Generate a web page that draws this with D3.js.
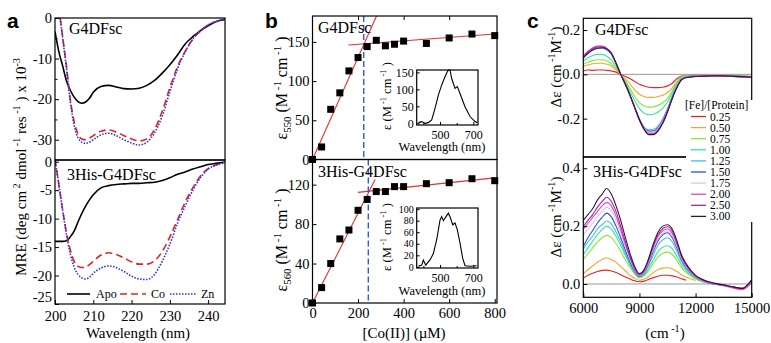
<!DOCTYPE html>
<html>
<head>
<meta charset="utf-8">
<script src="https://cdn.jsdelivr.net/npm/d3@7"></script>
<style>
  body { margin: 0; background: #fff; }
  svg { display: block; }
  text { font-family: "Liberation Serif", "Times New Roman", serif; fill: #000; }
</style>
</head>
<body>
<svg id="chart" width="771" height="343"></svg>
<script>
// ---------- panel a: CD spectra (MRE x 10^-3) ----------
const wlA = [200, 201, 202, 203, 204, 205, 206, 207, 208, 209, 210, 212, 214, 216, 218, 220,
             222, 224, 226, 228, 230, 232, 234, 236, 238, 240, 242, 244, 245];
const apoG4 = [-3.3, -8.3, -11.8, -15.5, -17.8, -19.5, -20.6, -21.0, -20.7, -19.8, -18.3, -16.9, -16.6, -17.0, -17.4,
               -17.5, -17.3, -16.6, -15.4, -13.6, -11.5, -9.1, -6.4, -4.6, -3.1, -1.9, -0.9, -0.4, -0.2];
const coG4 = [8, 2.5, -4.6, -11.9, -20.1, -25.5, -28.6, -29.8, -30.0, -29.6, -29.0, -27.9, -27.6, -28.1, -29.0,
              -29.8, -30.3, -29.8, -27.5, -23.0, -17.2, -12.0, -8.2, -5.2, -3.2, -1.7, -0.9, -0.4, -0.2];
const znG4 = [8, 2.3, -5.0, -12.5, -20.6, -26.5, -29.5, -30.6, -30.9, -30.6, -30.0, -28.8, -28.4, -29.0, -30.0,
              -30.8, -31.3, -30.6, -28.3, -24.2, -18.2, -12.5, -8.4, -5.2, -3.2, -1.7, -0.9, -0.4, -0.2];
const apo3H = [-14.0, -14.0, -14.0, -13.9, -13.2, -12.2, -10.6, -9.1, -7.8, -6.7, -5.8, -4.6, -4.2, -4.0, -3.9,
               -3.8, -3.8, -3.7, -3.6, -3.3, -2.8, -2.2, -1.8, -1.3, -0.9, -0.5, -0.3, -0.1, 0];
const co3H = [0.5, -4, -8.5, -12.5, -15.5, -17.5, -18.4, -18.6, -18.5, -18.1, -17.5, -16.4, -16.0, -16.3, -16.9,
              -17.6, -18.0, -18.0, -17.4, -15.8, -13.2, -10.2, -7.1, -4.6, -2.5, -1.2, -0.6, -0.2, 0];
const zn3H = [0.5, -4, -8.5, -12.8, -16.2, -18.5, -19.8, -20.4, -20.6, -20.3, -19.6, -18.7, -18.3, -18.6, -19.3,
              -20.1, -20.6, -20.7, -19.8, -17.5, -14.5, -10.8, -7.8, -5.0, -2.8, -1.3, -0.6, -0.2, 0];
const legendA = ["Apo", "Co", "Zn"];

// ---------- panel b: Co(II) titrations ----------
const conc = [0, 40, 80, 120, 160, 200, 240, 280, 320, 360, 400, 500, 600, 700, 800];
const eps550 = [0, 16, 64, 85, 113, 130, 144, 152, 145, 147, 151, 148, 155, 160, 158];
const eps560 = [0, 15.6, 40, 65, 74, 94, 105, 113, 113, 118, 118, 121, 122, 126, 124];
// linear fits: [slope, intercept, xStart, xEnd]
const fitSteep550 = [0.651, 0, 0, 290];
const fitFlat550 = [0.0218, 142.6, 158, 800];
const fitSteep560 = [0.455, 0, 0, 275];
const fitFlat560 = [0.0245, 107.3, 199, 800];
const breakPoints = [225, 245];
// inset absorption spectra
const insetWl1 = [370, 390, 410, 430, 450, 470, 490, 510, 530, 540, 550, 560, 570, 590, 604, 620, 650, 680, 710, 724];
const insetEps1 = [2, 5, 0, 2, 10, 44, 83, 113, 137, 148, 157, 157, 132, 103, 108, 88, 49, 20, 5, 2];
const insetWl2 = [370, 390, 400, 414, 440, 460, 480, 500, 510, 520, 536, 550, 560, 576, 590, 604, 620, 636, 650, 680, 720];
const insetEps2 = [1, 3, 12, 3, 12, 23, 47, 81, 87, 80, 87, 93, 87, 73, 76, 64, 41, 15, 2, 1, 2];

// ---------- panel c: Fe(II) titration difference spectra ----------
const wnC = [6000, 6250, 6500, 6750, 7000, 7250, 7500, 7750, 8000, 8250, 8500, 8750, 9000, 9250, 9500,
             9750, 10000, 10250, 10500, 10750, 11000, 11250, 11500, 12000, 12500, 13000, 13500, 14000, 14500, 15000];
const ratios = ["0.25", "0.50", "0.75", "1.00", "1.25", "1.50", "1.75", "2.00", "2.50", "3.00"];
const ratioColors = ["#e8222a", "#f5a62a", "#8ee43a", "#30e89a", "#4cb8ee", "#2a4fd6", "#d8c8ee", "#e044d0", "#a22a9e", "#3a1632"];

const topR025 = [0.015, 0.02, 0.018, 0.02, 0.02, 0.018, 0.015, 0.01, 0.0, -0.01, -0.02, -0.032, -0.045, -0.053, -0.058, -0.06, -0.06, -0.058, -0.052, -0.04, -0.02, -0.008, -0.005, -0.004, -0.005, -0.006, -0.005, -0.006, -0.008, -0.01];
const topR050 = [0.035, 0.042, 0.048, 0.05, 0.05, 0.046, 0.038, 0.02, 0.0, -0.02, -0.045, -0.07, -0.09, -0.1, -0.104, -0.104, -0.1, -0.094, -0.082, -0.062, -0.03, -0.01, -0.005, -0.004, -0.005, -0.005, -0.006, -0.006, -0.008, -0.01];
const topR075 = [0.045, 0.055, 0.062, 0.066, 0.066, 0.06, 0.048, 0.026, 0.0, -0.03, -0.065, -0.1, -0.128, -0.143, -0.148, -0.147, -0.14, -0.128, -0.108, -0.075, -0.035, -0.012, -0.006, -0.005, -0.005, -0.006, -0.006, -0.007, -0.008, -0.01];
const topR100 = [0.06, 0.075, 0.085, 0.09, 0.09, 0.082, 0.065, 0.035, 0.0, -0.035, -0.078, -0.12, -0.155, -0.175, -0.182, -0.18, -0.17, -0.152, -0.125, -0.085, -0.04, -0.015, -0.008, -0.006, -0.005, -0.006, -0.007, -0.007, -0.008, -0.01];
const topR125 = [0.075, 0.095, 0.11, 0.118, 0.118, 0.11, 0.09, 0.048, 0.0, -0.045, -0.095, -0.148, -0.2, -0.238, -0.25, -0.248, -0.232, -0.2, -0.155, -0.1, -0.052, -0.02, -0.01, -0.008, -0.006, -0.006, -0.007, -0.01, -0.012, -0.012];
const topR150 = [0.078, 0.098, 0.113, 0.12, 0.12, 0.112, 0.092, 0.049, 0.0, -0.046, -0.096, -0.15, -0.203, -0.242, -0.256, -0.255, -0.24, -0.208, -0.16, -0.103, -0.055, -0.022, -0.012, -0.008, -0.007, -0.006, -0.007, -0.009, -0.01, -0.012];
const topR175 = [0.08, 0.1, 0.115, 0.122, 0.122, 0.114, 0.094, 0.05, 0.0, -0.046, -0.097, -0.151, -0.205, -0.245, -0.262, -0.262, -0.246, -0.212, -0.164, -0.106, -0.056, -0.023, -0.012, -0.009, -0.007, -0.007, -0.007, -0.009, -0.01, -0.012];
const topR200 = [0.085, 0.105, 0.12, 0.128, 0.128, 0.118, 0.096, 0.051, 0.0, -0.046, -0.097, -0.152, -0.206, -0.247, -0.266, -0.267, -0.25, -0.216, -0.166, -0.108, -0.058, -0.024, -0.013, -0.009, -0.007, -0.007, -0.008, -0.01, -0.012, -0.014];
const topR250 = [0.08, 0.1, 0.116, 0.124, 0.124, 0.116, 0.095, 0.05, 0.0, -0.046, -0.096, -0.151, -0.206, -0.248, -0.27, -0.27, -0.253, -0.219, -0.168, -0.109, -0.059, -0.025, -0.014, -0.01, -0.008, -0.007, -0.008, -0.01, -0.012, -0.013];
const topR300 = [0.075, 0.095, 0.11, 0.118, 0.12, 0.115, 0.095, 0.05, 0.0, -0.045, -0.095, -0.15, -0.205, -0.248, -0.272, -0.272, -0.255, -0.22, -0.17, -0.11, -0.06, -0.025, -0.015, -0.01, -0.008, -0.006, -0.006, -0.008, -0.01, -0.012];

const botR025 = [0.02, 0.03, 0.037, 0.043, 0.047, 0.048, 0.045, 0.04, 0.032, 0.024, 0.017, 0.011, 0.008, 0.01, 0.016, 0.022, 0.027, 0.03, 0.03, 0.028, 0.024, 0.018, 0.013, null, null, null, null, null, null, null];
const botR050 = [0.035, 0.05, 0.062, 0.075, 0.085, 0.09, 0.085, 0.075, 0.06, 0.045, 0.03, 0.02, 0.013, 0.017, 0.027, 0.04, 0.05, 0.055, 0.056, 0.052, 0.043, 0.032, 0.024, 0.012, null, null, null, null, null, null];
const botR075 = [0.085, 0.105, 0.125, 0.145, 0.16, 0.168, 0.16, 0.14, 0.113, 0.083, 0.056, 0.034, 0.021, 0.028, 0.047, 0.072, 0.094, 0.106, 0.11, 0.102, 0.081, 0.056, 0.039, 0.017, 0.005, 0.0, -0.005, -0.01, -0.014, 0.008];
const botR100 = [0.1, 0.125, 0.148, 0.17, 0.188, 0.2, 0.19, 0.165, 0.133, 0.098, 0.065, 0.038, 0.023, 0.031, 0.055, 0.085, 0.112, 0.127, 0.132, 0.122, 0.096, 0.066, 0.045, 0.02, 0.006, 0.0, -0.005, -0.01, -0.015, 0.01];
const botR125 = [0.12, 0.145, 0.165, 0.19, 0.205, 0.218, 0.207, 0.18, 0.145, 0.106, 0.07, 0.041, 0.025, 0.036, 0.065, 0.102, 0.135, 0.153, 0.16, 0.146, 0.114, 0.077, 0.052, 0.022, 0.007, 0.0, -0.005, -0.011, -0.016, 0.012];
const botR150 = [0.13, 0.16, 0.185, 0.21, 0.23, 0.245, 0.232, 0.2, 0.16, 0.117, 0.077, 0.045, 0.027, 0.04, 0.073, 0.115, 0.15, 0.17, 0.177, 0.16, 0.125, 0.084, 0.057, 0.024, 0.008, 0.0, -0.005, -0.011, -0.016, 0.01];
const botR175 = [0.17, 0.19, 0.21, 0.232, 0.25, 0.265, 0.252, 0.22, 0.176, 0.128, 0.084, 0.049, 0.029, 0.042, 0.077, 0.122, 0.158, 0.176, 0.183, 0.168, 0.133, 0.088, 0.06, 0.025, 0.008, 0.001, -0.005, -0.012, -0.017, 0.008];
const botR200 = [0.19, 0.21, 0.23, 0.25, 0.27, 0.282, 0.27, 0.235, 0.188, 0.137, 0.09, 0.052, 0.03, 0.044, 0.08, 0.128, 0.165, 0.184, 0.19, 0.175, 0.138, 0.092, 0.062, 0.026, 0.009, 0.001, -0.006, -0.014, -0.02, 0.005];
const botR250 = [0.2, 0.22, 0.24, 0.265, 0.285, 0.3, 0.285, 0.25, 0.2, 0.145, 0.095, 0.055, 0.033, 0.047, 0.085, 0.135, 0.172, 0.192, 0.198, 0.183, 0.145, 0.097, 0.066, 0.028, 0.01, 0.002, -0.004, -0.01, -0.016, 0.012];
const botR300 = [0.22, 0.24, 0.26, 0.29, 0.31, 0.33, 0.31, 0.27, 0.22, 0.16, 0.105, 0.06, 0.036, 0.05, 0.09, 0.14, 0.18, 0.2, 0.205, 0.19, 0.15, 0.1, 0.07, 0.03, 0.012, 0.003, -0.003, -0.01, -0.015, 0.015];

const topSpectra = [topR025, topR050, topR075, topR100, topR125, topR150, topR175, topR200, topR250, topR300];
const botSpectra = [botR025, botR050, botR075, botR100, botR125, botR150, botR175, botR200, botR250, botR300];

// ---------- drawing ----------
const svg = d3.select("#chart");
const defs = svg.append("defs");
const FONT = 14.5;

function addClip(id, x0, y0, x1, y1) {
  defs.append("clipPath").attr("id", id)
    .append("rect").attr("x", x0).attr("y", y0).attr("width", x1 - x0).attr("height", y1 - y0);
}

function frame(x0, y0, x1, y1) {
  svg.append("rect")
    .attr("x", x0).attr("y", y0).attr("width", x1 - x0).attr("height", y1 - y0)
    .attr("fill", "none").attr("stroke", "#000").attr("stroke-width", 1.2);
}

// text with sub/superscripts; parts = [[str, "sup"|"sub"|undefined], ...]
function richText(x, y, parts, size, rotate) {
  const t = svg.append("text")
    .attr("text-anchor", "middle")
    .attr("font-size", size)
    .attr("transform", `translate(${x},${y})` + (rotate ? " rotate(-90)" : ""));
  let shift = 0;
  parts.forEach(([s, kind]) => {
    const target = kind === "sup" ? -size * 0.4 : kind === "sub" ? size * 0.25 : 0;
    t.append("tspan")
      .attr("dy", target - shift)
      .attr("font-size", kind ? size * 0.68 : size)
      .text(s);
    shift = target;
  });
  return t;
}

function leftAxis(scale, x, ticks, fmt, size, tick) {
  return svg.append("g")
    .attr("transform", `translate(${x},0)`)
    .call(d3.axisLeft(scale).tickValues(ticks).tickFormat(fmt).tickSize(-(tick || 4)).tickPadding(3))
    .attr("font-size", size || FONT)
    .call(g => g.select(".domain").remove());
}

function bottomAxis(scale, y, ticks, fmt, size, tick) {
  return svg.append("g")
    .attr("transform", `translate(0,${y})`)
    .call(d3.axisBottom(scale).tickValues(ticks).tickFormat(fmt).tickSize(-(tick || 4)).tickPadding(5))
    .attr("font-size", size || FONT)
    .call(g => g.select(".domain").remove());
}

function topTicks(scale, y, ticks) {
  svg.append("g")
    .attr("transform", `translate(0,${y})`)
    .call(d3.axisTop(scale).tickValues(ticks).tickFormat("").tickSize(-4))
    .call(g => g.select(".domain").remove());
}

const fmtInt = d => String(d);
const fmt1 = d => d.toFixed(1);

// ===== panel a =====
const xA = d3.scaleLinear().domain([200, 244.4]).range([55, 225]);
const yA1 = d3.scaleLinear().domain([-35, 0]).range([160, 18]);
const yA2 = d3.scaleLinear().domain([-25, 0.3]).range([304, 160]);
addClip("clipA1", 55, 18, 225, 160);
addClip("clipA2", 55, 160, 225, 304);

const styleA = [
  { color: "#000", dash: null, width: 1.6 },
  { color: "#e8201c", dash: "7,4", width: 1.6 },
  { color: "#2233ee", dash: "1.5,1.5", width: 1.6 }
];

function drawA(series, yScale, clip) {
  const line = d3.line().x((d, i) => xA(wlA[i])).y(d => yScale(d)).curve(d3.curveMonotoneX);
  svg.append("g").attr("clip-path", `url(#${clip})`)
    .selectAll("path")
    .data(series)
    .join("path")
    .attr("d", d => line(d))
    .attr("fill", "none")
    .attr("stroke", (d, i) => styleA[i].color)
    .attr("stroke-width", (d, i) => styleA[i].width)
    .attr("stroke-dasharray", (d, i) => styleA[i].dash);
}
drawA([apoG4, coG4, znG4], yA1, "clipA1");
drawA([apo3H, co3H, zn3H], yA2, "clipA2");

frame(55, 18, 225, 160);
frame(55, 160, 225, 304);
leftAxis(yA1, 55, [0, -10, -20, -30], fmtInt);
leftAxis(yA1, 55, [-5, -15, -25], () => "", FONT, 2.5);
// the -25 label sits a little above its tick, clear of the x labels
leftAxis(yA2, 55, [0, -5, -10, -15, -20, -25], fmtInt)
  .selectAll("text").filter(d => d === -25).attr("dy", "-0.15em");
bottomAxis(xA, 304, [200, 210, 220, 230, 240], fmtInt)
  .selectAll("text").attr("dy", "0.85em");

svg.append("text").attr("x", 69).attr("y", 34).attr("font-size", 16).text("G4DFsc");
svg.append("text").attr("x", 67).attr("y", 180).attr("font-size", 16).text("3His-G4DFsc");

// legend a
const legA = svg.append("g").attr("transform", "translate(0,294)");
const legAx = [67, 120, 170];
legendA.forEach((name, i) => {
  legA.append("line")
    .attr("x1", legAx[i]).attr("x2", legAx[i] + (i === 0 ? 23 : 26))
    .attr("stroke", styleA[i].color).attr("stroke-width", styleA[i].width)
    .attr("stroke-dasharray", styleA[i].dash);
  legA.append("text")
    .attr("x", legAx[i] + (i === 0 ? 29 : 31)).attr("y", 4)
    .attr("font-size", 12).text(name);
});

richText(26, 167, [["MRE (deg cm"], [" 2", "sup"], [" dmol"], [" -1", "sup"], [" res"], [" -1", "sup"], [" ) x 10"], ["-3", "sup"]], 15, true);
svg.append("text").attr("x", 138).attr("y", 338).attr("text-anchor", "middle").attr("font-size", 15).text("Wavelength (nm)");

// ===== panel b =====
const xB = d3.scaleLinear().domain([0, 810]).range([312.5, 497]);
const yB1 = d3.scaleLinear().domain([0, 183]).range([159.5, 16]);
const yB2 = d3.scaleLinear().domain([0, 145.5]).range([303, 159.5]);
addClip("clipB1", 312.5, 16, 497, 159.5);
addClip("clipB2", 312.5, 159.5, 497, 303);

function drawTitration(yScale, values, steep, flat, brk, clip, y0, y1) {
  const g = svg.append("g").attr("clip-path", `url(#${clip})`);
  [steep, flat].forEach(f => {
    g.append("line")
      .attr("x1", xB(f[2])).attr("y1", yScale(f[0] * f[2] + f[1]))
      .attr("x2", xB(f[3])).attr("y2", yScale(f[0] * f[3] + f[1]))
      .attr("stroke", "#e8302a").attr("stroke-width", 1.1);
  });
  g.append("line")
    .attr("x1", xB(brk)).attr("x2", xB(brk))
    .attr("y1", y0).attr("y2", y1)
    .attr("stroke", "#3355e8").attr("stroke-width", 1.4).attr("stroke-dasharray", "6,3");
  svg.append("g")
    .selectAll("rect")
    .data(values)
    .join("rect")
    .attr("x", (d, i) => xB(conc[i]) - 3.5)
    .attr("y", d => yScale(d) - 3.5)
    .attr("width", 7).attr("height", 7)
    .attr("fill", "#000");
}
drawTitration(yB1, eps550, fitSteep550, fitFlat550, breakPoints[0], "clipB1", 16, 159.5);
drawTitration(yB2, eps560, fitSteep560, fitFlat560, breakPoints[1], "clipB2", 159.5, 303);

frame(312.5, 16, 497, 159.5);
frame(312.5, 159.5, 497, 303);
leftAxis(yB1, 312.5, [0, 50, 100, 150], fmtInt);
leftAxis(yB2, 312.5, [0, 40, 80, 120], fmtInt);
bottomAxis(xB, 303, [0, 200, 400, 600, 800], fmtInt);
topTicks(xB, 16, [200, 400, 600]);

svg.append("text").attr("x", 318).attr("y", 33).attr("font-size", 16).text("G4DFsc");
svg.append("text").attr("x", 318).attr("y", 177).attr("font-size", 16).text("3His-G4DFsc");

richText(287, 88, [["ε"], ["550", "sub"], [" (M"], [" -1", "sup"], [" cm"], [" -1", "sup"], [" )"]], 16, true);
richText(287, 240, [["ε"], ["560", "sub"], [" (M"], [" -1", "sup"], [" cm"], [" -1", "sup"], [" )"]], 16, true);
richText(404, 338, [["[Co(II)] (µM)"]], 15, false);

// insets
const xI = d3.scaleLinear().domain([360, 728]).range([416.7, 478]);
const yI1 = d3.scaleLinear().domain([-5, 157]).range([125, 70]);
const yI2 = d3.scaleLinear().domain([-2, 102]).range([268, 208]);

function drawInset(wl, eps, yScale, y0, y1, yTicks, tickFont, labelY, titleY) {
  svg.append("rect").attr("x", 416.7).attr("y", y0).attr("width", 478 - 416.7).attr("height", y1 - y0)
    .attr("fill", "#fff");
  const line = d3.line().x((d, i) => xI(wl[i])).y(d => yScale(d));
  svg.append("path").datum(eps).attr("d", line)
    .attr("fill", "none").attr("stroke", "#000").attr("stroke-width", 1.1);
  frame(416.7, y0, 478, y1);
  leftAxis(yScale, 416.7, yTicks, fmtInt, tickFont, 3);
  bottomAxis(xI, y1, [500, 700], fmtInt, 12, 3);
  svg.append("g").attr("transform", `translate(0,${y1})`)
    .call(d3.axisBottom(xI).tickValues([400, 600]).tickFormat("").tickSize(-2))
    .call(g => g.select(".domain").remove());
  richText(391, labelY, [["ε (M"], [" -1", "sup"], [" cm"], [" -1", "sup"], [" )"]], 12.5, true);
  svg.append("text").attr("x", 442).attr("y", titleY).attr("text-anchor", "middle").attr("font-size", 12.5)
    .text("Wavelength (nm)");
}
drawInset(insetWl1, insetEps1, yI1, 70, 125, [0, 50, 100, 150], 12, 96, 151);
drawInset(insetWl2, insetEps2, yI2, 208, 268, [0, 20, 40, 60, 80, 100], 10, 237, 295);

// ===== panel c =====
const xC = d3.scaleLinear().domain([6000, 15000]).range([583.3, 751.7]);
const yC1 = d3.scaleLinear().domain([-0.373, 0.253]).range([157, 18.3]);
const yC2 = d3.scaleLinear().domain([-0.046, 0.439]).range([297.3, 157]);
addClip("clipC1", 583.3, 18.3, 751.7, 157);
addClip("clipC2", 583.3, 157, 751.7, 297.3);

function drawC(spectra, yScale, clip) {
  const g = svg.append("g").attr("clip-path", `url(#${clip})`);
  g.append("line")
    .attr("x1", xC(6000)).attr("x2", xC(15000))
    .attr("y1", yScale(0)).attr("y2", yScale(0))
    .attr("stroke", "#999").attr("stroke-width", 1);
  const line = d3.line()
    .defined(d => d != null)
    .x((d, i) => xC(wnC[i])).y(d => yScale(d))
    .curve(d3.curveMonotoneX);
  g.selectAll("path.spec")
    .data(spectra)
    .join("path")
    .attr("class", "spec")
    .attr("d", d => line(d))
    .attr("fill", "none")
    .attr("stroke", (d, i) => ratioColors[i])
    .attr("stroke-width", 1.1);
}
drawC(topSpectra, yC1, "clipC1");
drawC(botSpectra, yC2, "clipC2");

frame(583.3, 18.3, 751.7, 157);
frame(583.3, 157, 751.7, 297.3);
leftAxis(yC1, 583.3, [-0.2, 0.0, 0.2], fmt1);
leftAxis(yC2, 583.3, [0.0, 0.2, 0.4], fmt1);
bottomAxis(xC, 297.3, [6000, 9000, 12000, 15000], fmtInt);

svg.append("text").attr("x", 595).attr("y", 35).attr("font-size", 16).text("G4DFsc");
svg.append("text").attr("x", 593).attr("y", 177).attr("font-size", 16).text("3His-G4DFsc");

richText(561, 67, [["Δε (cm"], [" -1", "sup"], ["M"], ["-1", "sup"], [")"]], 15, true);
richText(561, 217, [["Δε (cm"], [" -1", "sup"], ["M"], ["-1", "sup"], [")"]], 15, true);
richText(665, 338, [["(cm"], [" -1", "sup"], [")"]], 15, false);

// legend c (white box over the curves and frame)
const legC = svg.append("g");
legC.append("rect").attr("x", 686).attr("y", 100).attr("width", 68).attr("height", 122).attr("fill", "#fff");
legC.append("text").attr("x", 685).attr("y", 109).attr("font-size", 11.5).text("[Fe]/[Protein]");
ratios.forEach((r, i) => {
  const y = 116.5 + i * 11.1;
  legC.append("line").attr("x1", 691).attr("x2", 706).attr("y1", y).attr("y2", y)
    .attr("stroke", ratioColors[i]).attr("stroke-width", 1.3);
  legC.append("text").attr("x", 710).attr("y", y + 4).attr("font-size", 11.5).text(r);
});

// panel letters
[["a", 7], ["b", 265], ["c", 527]].forEach(([l, x]) => {
  svg.append("text").attr("x", x).attr("y", 28)
    .style("font-family", "'Liberation Sans', Arial, sans-serif")
    .attr("font-weight", "bold").attr("font-size", 21).text(l);
});
</script>
</body>
</html>
